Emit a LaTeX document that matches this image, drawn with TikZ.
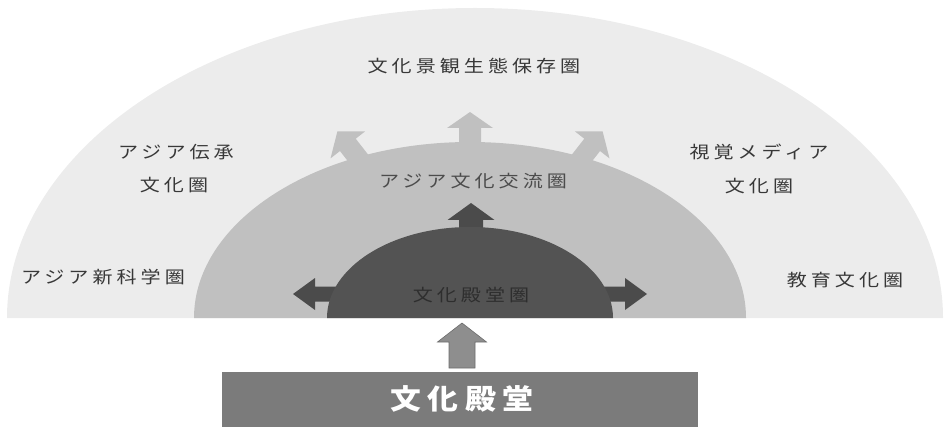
\documentclass[tikz,border=0pt]{standalone}
\usepackage{fontspec}
\newfontfamily\jplab[LetterSpace=20]{Noto Sans CJK JP}
\newfontfamily\jpbox[LetterSpace=22]{Noto Sans CJK JP}
\definecolor{outerc}{HTML}{ECECEC}
\definecolor{midc}{HTML}{C0C0C0}
\definecolor{darkc}{HTML}{535353}
\definecolor{darkarr}{HTML}{4B4B4B}
\definecolor{labc}{HTML}{383838}
\definecolor{botarr}{HTML}{8E8E8E}
\definecolor{botarrline}{HTML}{6C6C6C}
\definecolor{boxc}{HTML}{7B7B7B}
\tikzset{
  lab/.style={font=\jplab\fontsize{17}{17}\selectfont, text=labc, xscale=1.18, inner sep=0pt},
  boxlab/.style={font=\jpbox\bfseries\fontsize{28}{28}\selectfont, text=white, xscale=1.1, inner sep=0pt},
  pics/blockarrow/.style n args={5}{code={
    \fill[#5] (0,-#2) -- ({#1-#4},-#2) -- ({#1-#4},-#3) -- (#1,0) -- ({#1-#4},#3) -- ({#1-#4},#2) -- (0,#2) -- cycle;}}
}
\begin{document}
\begin{tikzpicture}[x=1pt,y=1pt]
\useasboundingbox (0,0) rectangle (944,-430);
% outer zone
\fill[outerc] (7,-318) arc[start angle=180,end angle=0,x radius=468pt,y radius=310pt] -- cycle;
% light arrows from middle zone
\pic (aLeft)  [rotate=128] at (362,-163) {blockarrow={40}{10}{22}{17}{midc}};
\pic (aTop)   [rotate=90]  at (470,-150) {blockarrow={38}{11}{23}{16}{midc}};
\pic (aRight) [rotate=52]  at (578,-163) {blockarrow={40}{10}{22}{17}{midc}};
% middle zone
\fill[midc] (194,-318) arc[start angle=180,end angle=0,x radius=276pt,y radius=176pt] -- cycle;
% dark arrows
\pic (dUp)    [rotate=90]  at (471,-240) {blockarrow={37}{12}{23.5}{17}{darkarr}};
\pic (dLeft)  [rotate=180] at (345,-294) {blockarrow={52}{7.5}{16}{22}{darkarr}};
\pic (dRight) [rotate=0]   at (595,-294) {blockarrow={52}{7.5}{16}{22}{darkarr}};
% dark zone
\fill[darkc] (327,-318) arc[start angle=180,end angle=0,x radius=143pt,y radius=91pt] -- cycle;
% bottom box and arrow
\node (box) [fill=boxc, minimum width=476pt, minimum height=55pt, inner sep=0pt] at (460,-399.5) {};
\node (boxtxt) [boxlab] at (462,-399) {文化殿堂};
\draw[fill=botarr, draw=botarrline, line width=0.6pt]
  (449,-368) -- (449,-342) -- (437.5,-342) -- (462,-323) -- (486.5,-342) -- (475,-342) -- (475,-368) -- cycle;
% labels
\node (l1) [lab] at (474,-66) {文化景観生態保存圏};
\node (l2) [lab] at (176,-152) {アジア伝承};
\node (l3) [lab] at (174,-185) {文化圏};
\node (l4) [lab] at (103,-277) {アジア新科学圏};
\node (l5) [lab] at (759,-152) {視覚メディア};
\node (l6) [lab] at (759,-186) {文化圏};
\node (l7) [lab] at (845,-280) {教育文化圏};
\node (l8) [lab, text=labc!90!white] at (473,-181) {アジア文化交流圏};
\node (l9) [lab, text=black!82] at (471,-295) {文化殿堂圏};
\end{tikzpicture}
\end{document}
